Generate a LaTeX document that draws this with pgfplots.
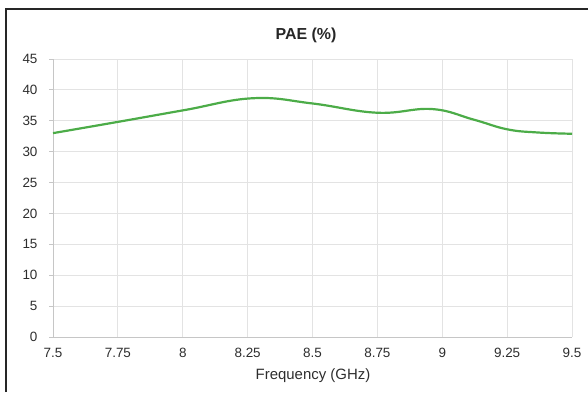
\documentclass[border=0pt]{standalone}
\usepackage{pgfplots}
\pgfplotsset{compat=1.18}
\usepackage{fontspec}
\setmainfont{Liberation Sans}
\definecolor{linegreen}{RGB}{76,172,72}
\definecolor{txt}{RGB}{45,45,45}
\begin{document}
\begin{tikzpicture}[x=1bp,y=1bp]
\useasboundingbox (0,0) rectangle (588,392);
\draw[line width=1.3bp, black!85] (6,0) -- (6,383) -- (588,383);
\begin{axis}[
  at={(53bp,55bp)}, anchor=south west,
  scale only axis, width=519bp, height=278bp,
  xmin=7.5, xmax=9.5, ymin=0, ymax=45,
  xtick={7.5,7.75,8,8.25,8.5,8.75,9,9.25,9.5},
  xticklabels={7.5,7.75,8,8.25,8.5,8.75,9,9.25,9.5},
  ytick={0,5,10,15,20,25,30,35,40,45},
  /pgf/number format/assume math mode=true,
  tick label style={font=\fontsize{13.5}{15}\selectfont, text=txt},
  grid=major,
  grid style={draw=gray!22, line width=1bp},
  axis lines*=left,
  axis line style={draw=gray!45, line width=1bp},
  x tick style={draw=none},
  y tick style={draw=gray!45, line width=1bp},
  ytick align=outside, major tick length=4bp,
  xticklabel style={yshift=-8bp},
  yticklabel style={xshift=-8bp},
  clip=false,
]
\addplot[color=linegreen, line width=2.2bp, smooth, tension=0.7] coordinates {
(7.5,33.0) (7.754,34.85) (8.008,36.74) (8.27,38.65)
(8.5,37.8) (8.75,36.3) (8.96,36.9)
(9.12,35.2) (9.25,33.62) (9.37,33.1) (9.5,32.9)
};
\end{axis}
\node[font=\bfseries\fontsize{16}{18}\selectfont, text=black!85] at (306,357) {PAE (\%)};
\node[font=\fontsize{15}{17}\selectfont, text=txt] at (313,16) {Frequency (GHz)};
\end{tikzpicture}
\end{document}
